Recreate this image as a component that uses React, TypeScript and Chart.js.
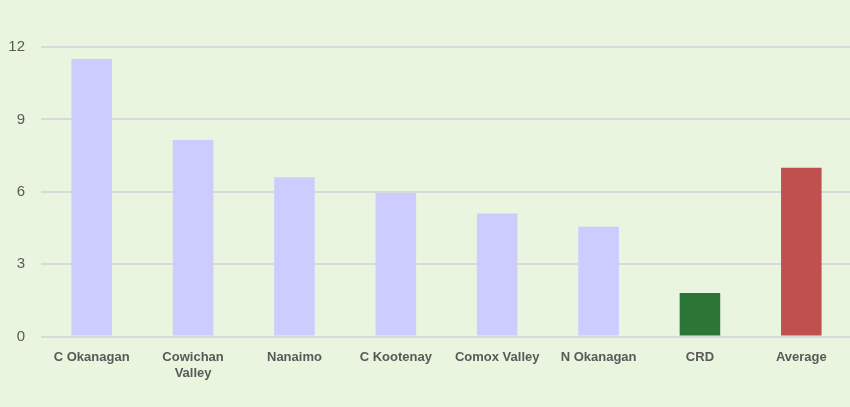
import React, { useEffect, useRef } from "react";
import { Chart, registerables } from "chart.js";

Chart.register(...registerables);

const categories: (string | string[])[] = [
  "C Okanagan",
  ["Cowichan", "Valley"],
  "Nanaimo",
  "C Kootenay",
  "Comox Valley",
  "N Okanagan",
  "CRD",
  "Average",
];
const values: number[] = [11.5, 8.15, 6.6, 5.95, 5.1, 4.55, 1.8, 7.0];
const barColors: string[] = [
  "#CCCCFF",
  "#CCCCFF",
  "#CCCCFF",
  "#CCCCFF",
  "#CCCCFF",
  "#CCCCFF",
  "#2B7536",
  "#C0504D",
];
const yTicks: number[] = [0, 3, 6, 9, 12];

export default function App() {
  const ref = useRef<HTMLCanvasElement | null>(null);
  useEffect(() => {
    document.body.style.margin = "0";
    document.body.style.overflow = "hidden";
    document.body.style.background = "#E9F5DE";
    const chart = new Chart(ref.current!, {
      type: "bar",
      data: {
        labels: categories,
        datasets: [
          {
            data: values,
            backgroundColor: barColors,
            categoryPercentage: 0.8,
            barPercentage: 0.5,
          },
        ],
      },
      options: {
        animation: false,
        responsive: false,
        layout: { padding: { top: 47, right: 0, left: 0, bottom: 0 } },
        plugins: { legend: { display: false }, tooltip: { enabled: false } },
        scales: {
          x: {
            grid: { display: false, drawTicks: false },
            border: { display: false },
            ticks: {
              color: "#595959",
              font: { family: "Liberation Sans, Arial", size: 13, weight: "bold", lineHeight: 1.25 },
              padding: 13,
              maxRotation: 0,
              autoSkip: false,
            },
            afterFit: (s: any) => {
              s.height = 407 - 47 - 289.5;
            },
          },
          y: {
            min: 0,
            max: 12,
            afterBuildTicks: (s: any) => {
              s.ticks = yTicks.map((v) => ({ value: v }));
            },
            grid: { color: "#D9D9D9", lineWidth: 2, drawTicks: false },
            border: { display: false },
            ticks: {
              color: "#595959",
              font: { family: "Liberation Sans, Arial", size: 15 },
              padding: 16,
            },
            afterFit: (s: any) => {
              s.width = 41;
            },
          },
        },
      },
    });
    return () => chart.destroy();
  }, []);
  return (
    <div style={{ width: 852, height: 407, background: "#E9F5DE" }}>
      <canvas ref={ref} width={852} height={407} />
    </div>
  );
}
